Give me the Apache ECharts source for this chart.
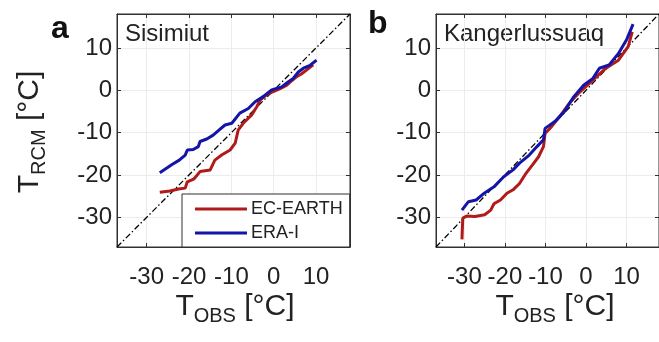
<!DOCTYPE html>
<html><head><meta charset="utf-8">
<script src="https://cdn.jsdelivr.net/npm/echarts@6/dist/echarts.min.js"></script>
<style>html,body{margin:0;padding:0;background:#fff}#c{width:659px;height:342px}</style>
</head><body><div id="c"></div>
<script>
const tickValues = [-30, -20, -10, 0, 10];
const axisMin = -37, axisMax = 18;
const panelTitles = ['Sisimiut', 'Kangerlussuaq'];
const seriesNames = ['EC-EARTH', 'ERA-I'];

// Sisimiut
const sisEcObs = [-26.9,-24.5,-22.5,-20.9,-20.4,-18.8,-17.4,-16.2,-15.0,-13.9,-12.3,-10.3,-9.1,-8.4,-7.2,-5.2,-4.0,-3.2,-1.7,-0.1,1.5,3.1,4.3,5.4,6.6,7.8,9.3];
const sisEcRcm = [-24.1,-23.8,-23.3,-23.1,-21.6,-20.9,-19.2,-19.0,-18.8,-16.5,-15.3,-14.1,-12.5,-9.4,-7.8,-5.8,-3.9,-2.3,-1.1,-0.3,0.4,1.2,2.3,3.2,3.9,4.8,6.0];
const sisEraObs = [-26.9,-24.1,-22.3,-20.9,-20.4,-19.0,-17.8,-17.4,-15.8,-14.3,-12.8,-11.5,-9.9,-8.0,-6.0,-4.4,-2.5,-0.5,1.9,3.3,4.6,5.8,7.0,8.6,10.1];
const sisEraRcm = [-19.5,-17.6,-16.5,-15.3,-14.1,-14.0,-13.3,-12.1,-11.5,-10.6,-9.3,-8.2,-7.8,-5.4,-4.3,-2.7,-1.5,0.1,0.8,1.9,2.8,4.3,5.2,5.9,7.1];
// Kangerlussuaq
const kanEcObs = [-30.6,-30.4,-29.4,-27.4,-25.0,-23.5,-22.7,-21.1,-19.5,-18.0,-16.4,-14.8,-13.2,-11.7,-10.5,-10.1,-8.5,-6.2,-3.8,-1.4,1.7,4.9,8.0,10.4,11.4];
const kanEcRcm = [-35.2,-30.2,-29.7,-29.8,-29.4,-28.3,-26.8,-25.9,-24.3,-23.5,-22.0,-19.6,-17.6,-15.7,-13.3,-10.2,-8.6,-5.8,-2.7,-0.3,2.4,5.2,7.1,10.3,13.8];
const kanEraObs = [-30.6,-29.0,-27.1,-25.1,-22.7,-20.3,-18.0,-16.4,-14.0,-12.1,-10.5,-10.1,-7.7,-5.4,-3.0,-0.6,1.7,3.3,5.7,8.0,10.0,11.6];
const kanEraRcm = [-28.3,-26.3,-25.9,-24.3,-22.8,-20.4,-18.8,-17.2,-15.3,-13.3,-11.7,-9.0,-7.4,-5.1,-1.5,1.2,2.8,5.2,6.0,8.7,11.9,15.6];

const zip = (a, b) => a.map((v, i) => [v, b[i]]);
const FONT = 'Liberation Sans, Arial, sans-serif';
const RED = '#b01a1a', BLUE = '#1414a8', AX = '#303030';

function mkX(gi, pos, lab) {
  return {type:'value', gridIndex:gi, position:pos, min:axisMin, max:axisMax,
    axisLine:{show:true, onZero:false, lineStyle:{color:AX, width:1}},
    axisTick:{show:true, inside:true, length:4, customValues:tickValues, lineStyle:{color:AX}},
    axisLabel:{show:lab, customValues:tickValues, fontSize:24, color:'#222', margin:18, fontFamily:FONT},
    splitLine:{show:lab, lineStyle:{color:'#ececec', width:1}}};
}
function mkY(gi, pos, lab) {
  return {type:'value', gridIndex:gi, position:pos, min:axisMin, max:axisMax,
    axisLine:{show:true, onZero:false, lineStyle:{color:AX, width:1}},
    axisTick:{show:true, inside:true, length:4, customValues:tickValues, lineStyle:{color:AX}},
    axisLabel:{show:lab, customValues:tickValues, fontSize:24, color:'#222', margin:5, fontFamily:FONT},
    splitLine:{show:lab, lineStyle:{color:'#ececec', width:1}}};
}
function diag(gi) {
  return {type:'line', xAxisIndex:gi*2, yAxisIndex:gi*2, data:[[axisMin,axisMin],[axisMax,axisMax]],
    showSymbol:false, silent:true, lineStyle:{color:'#000', width:1.3, type:[6,2.5,1.5,2.5]}, z:2};
}
function ser(gi, name, color, obs, rcm) {
  return {type:'line', name, xAxisIndex:gi*2, yAxisIndex:gi*2, data:zip(obs, rcm),
    showSymbol:false, lineStyle:{color, width:3}, itemStyle:{color}, z:3};
}
const richT = {
  t:{fontSize:30, lineHeight:34, verticalAlign:'top', fontFamily:FONT, fill:'#222'},
  s:{fontSize:20, lineHeight:20, padding:[24,0,0,0], verticalAlign:'bottom', fontFamily:FONT, fill:'#222'}
};
const chart = echarts.init(document.getElementById('c'), null, {renderer:'canvas'});
chart.setOption({
  animation:false,
  backgroundColor:'#fff',
  grid:[{left:117, top:14, width:233, height:233, show:true, borderColor:AX, borderWidth:1},
        {left:436, top:14, width:233, height:233, show:true, borderColor:AX, borderWidth:1}],
  xAxis:[mkX(0,'bottom',true), mkX(0,'top',false), mkX(1,'bottom',true), mkX(1,'top',false)],
  yAxis:[mkY(0,'left',true), mkY(0,'right',false), mkY(1,'left',true), mkY(1,'right',false)],
  legend:{data:seriesNames, left:182, top:194, orient:'vertical', icon:'rect', itemWidth:52, itemHeight:3,
    itemGap:6, padding:[6,7,5,13], backgroundColor:'#fff', borderColor:AX, borderWidth:1, borderRadius:0,
    textStyle:{fontSize:18, color:'#222', fontFamily:FONT, lineHeight:18, padding:[0,0,0,-1]}},
  series:[diag(0), ser(0,seriesNames[0],RED,sisEcObs,sisEcRcm), ser(0,seriesNames[1],BLUE,sisEraObs,sisEraRcm),
          diag(1), ser(1,seriesNames[0],RED,kanEcObs,kanEcRcm), ser(1,seriesNames[1],BLUE,kanEraObs,kanEraRcm)],
  graphic:[
    {type:'text', left:51, top:13, style:{text:'a', font:'bold 32px '+FONT, fill:'#111'}},
    {type:'text', left:368, top:8, style:{text:'b', font:'bold 32px '+FONT, fill:'#111'}},
    {type:'text', x:125, y:22, style:{text:panelTitles[0], font:'24px '+FONT, fill:'#222', verticalAlign:'top'}},
    {type:'text', x:444, y:22, style:{text:panelTitles[1], font:'24px '+FONT, fill:'#222', verticalAlign:'top'}},
    {type:'text', x:235, y:292, style:{text:'{t|T}{s|OBS}{t| [°C]}', rich:richT, align:'center', verticalAlign:'top'}},
    {type:'text', x:555, y:292, style:{text:'{t|T}{s|OBS}{t| [°C]}', rich:richT, align:'center', verticalAlign:'top'}},
    {type:'text', x:32, y:132, rotation:Math.PI/2, style:{text:'{t|T}{s|RCM}{t| [°C]}', rich:richT, align:'center', verticalAlign:'middle'}}
  ]
});
</script></body></html>
